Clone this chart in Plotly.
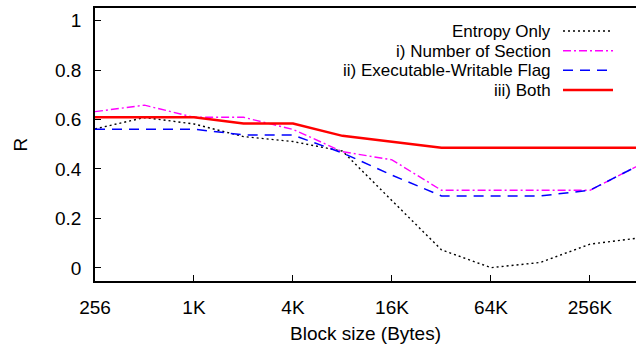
import math
import plotly.graph_objects as go

block_sizes = [256, 512, 1024, 2048, 4096, 8192, 16384, 32768, 65536, 131072, 262144, 524288]
tick_vals = [256, 1024, 4096, 16384, 65536, 262144]
tick_text = ["256", "1K", "4K", "16K", "64K", "256K"]
y_ticks = [0, 0.2, 0.4, 0.6, 0.8, 1]
y_tick_text = ["0", "0.2", "0.4", "0.6", "0.8", "1"]

entropy_only = [0.562, 0.608, 0.582, 0.531, 0.511, 0.472, 0.272, 0.073, 0.001, 0.022, 0.096, 0.121]
num_section = [0.632, 0.658, 0.609, 0.609, 0.560, 0.470, 0.437, 0.314, 0.314, 0.314, 0.314, 0.416]
exec_write = [0.561, 0.561, 0.561, 0.538, 0.537, 0.465, 0.375, 0.291, 0.291, 0.291, 0.314, 0.416]
both = [0.609, 0.609, 0.609, 0.584, 0.584, 0.534, 0.511, 0.486, 0.486, 0.486, 0.486, 0.486]

series_names = ["Entropy Only", "i) Number of Section", "ii) Executable-Writable Flag", "iii) Both"]
series_values = [entropy_only, num_section, exec_write, both]
series_colors = ["#000000", "#ff00ff", "#0000ff", "#ff0000"]
series_dash = ["2px,3px", "8px,3px,2px,3px", "10px,7px", "solid"]
series_width = [1.4, 1.4, 1.5, 2.5]

FONT = "Liberation Sans, Arial, sans-serif"
W, H = 636, 347
ML, MR, MT, MB = 95, 0, 8, 66
PW, PH = W - ML - MR, H - MT - MB

def px_x(px):
    return (px - ML) / PW

def px_y(py):
    return (H - MB - py) / PH

fig = go.Figure()
for name, vals, col, dash, w in zip(series_names, series_values, series_colors, series_dash, series_width):
    fig.add_trace(go.Scatter(x=block_sizes, y=vals, mode="lines", name=name,
                             line=dict(color=col, dash=dash, width=w), showlegend=False))

# custom legend (gnuplot style): right-aligned text, line sample on the right
leg_y = [31, 50.7, 70.3, 90]
for name, col, dash, w, yy in zip(series_names, series_colors, series_dash, series_width, leg_y):
    fig.add_annotation(x=px_x(552), y=px_y(yy), xref="paper", yref="paper", text=name, showarrow=False,
                       xanchor="right", yanchor="middle", borderpad=0, height=18, valign="middle",
                       font=dict(family=FONT, size=17, color="#000"))
    fig.add_shape(type="line", xref="paper", yref="paper", x0=px_x(563), x1=px_x(613),
                  y0=px_y(yy), y1=px_y(yy), line=dict(color=col, dash=dash, width=w))

x_lo = 2 ** 8
x_hi = 2 ** 18.93
fig.update_layout(
    width=W, height=H,
    margin=dict(l=ML, r=MR, t=MT, b=MB),
    paper_bgcolor="white", plot_bgcolor="white",
    font=dict(family=FONT, size=19, color="#000"),
    xaxis=dict(type="log", range=[math.log10(x_lo), math.log10(x_hi)],
               tickvals=tick_vals, ticktext=tick_text, ticks="inside", ticklen=6,
               tickcolor="#000", showline=True, linecolor="#000", linewidth=1.5, mirror=True,
               showgrid=False, zeroline=False, ticklabelstandoff=8,
               title=dict(text="Block size (Bytes)", standoff=10, font=dict(size=19))),
    yaxis=dict(range=[-0.053, 1.051], tickvals=y_ticks, ticktext=y_tick_text, ticks="inside", ticklen=6,
               tickcolor="#000", showline=True, linecolor="#000", linewidth=1.5,
               showgrid=False, zeroline=False, ticklabelstandoff=8,
               title=dict(text="R", standoff=22, font=dict(size=19))),
)
fig.write_html("out.html")
